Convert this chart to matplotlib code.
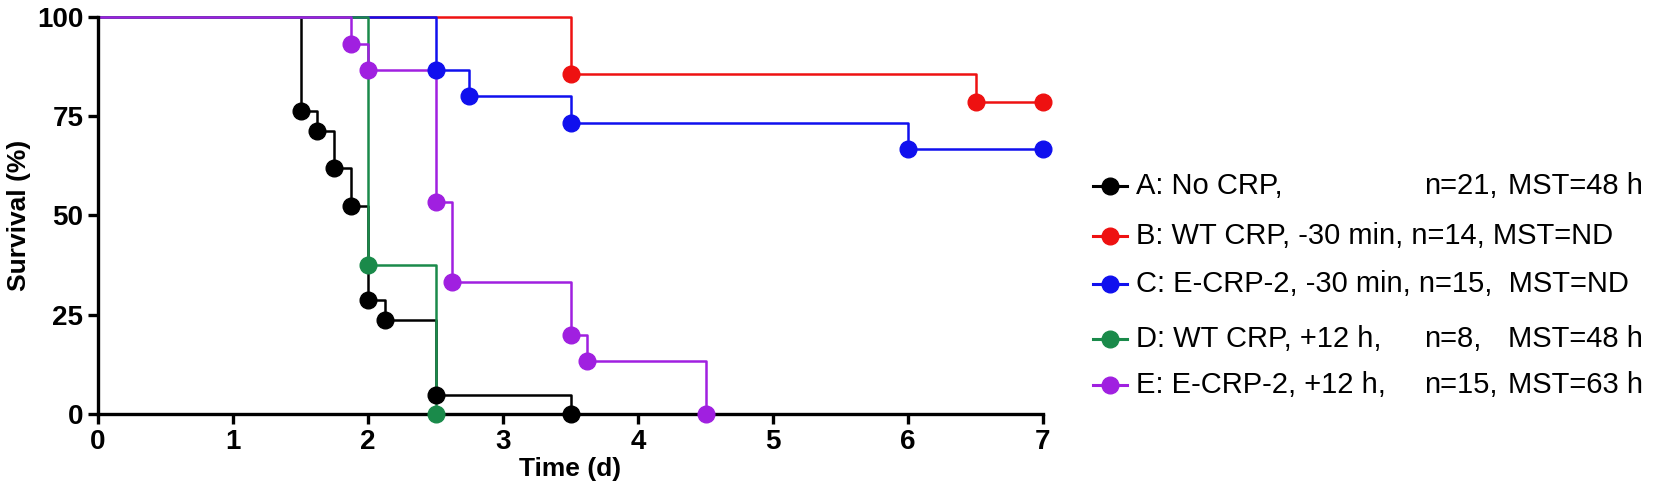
import matplotlib
matplotlib.use("Agg")
import matplotlib.pyplot as plt
from matplotlib.lines import Line2D

plt.rcParams["font.family"] = "Liberation Sans"

colors = ["#000000", "#ee1111", "#1010ee", "#1a8a4a", "#a020e0"]
A_t = [1.5, 1.625, 1.75, 1.875, 2.0, 2.125, 2.5, 3.5]
A_s = [76.2, 71.4, 61.9, 52.4, 28.6, 23.8, 4.8, 0]
B_t = [3.5, 6.5, 7.0]
B_s = [85.7, 78.6, 78.6]
C_t = [2.5, 2.75, 3.5, 6.0, 7.0]
C_s = [86.7, 80.0, 73.3, 66.7, 66.7]
D_t = [2.0, 2.5]
D_s = [37.5, 0]
E_t = [1.875, 2.0, 2.5, 2.625, 3.5, 3.625, 4.5]
E_s = [93.3, 86.7, 53.3, 33.3, 20.0, 13.3, 0]
series = [(A_t, A_s), (B_t, B_s), (C_t, C_s), (D_t, D_s), (E_t, E_s)]

legend_rows = [
    ["A: No CRP,", "n=21,", "MST=48 h"],
    ["B: WT CRP, -30 min, n=14, MST=ND"],
    ["C: E-CRP-2, -30 min, n=15,  MST=ND"],
    ["D: WT CRP, +12 h,", "n=8,", "MST=48 h"],
    ["E: E-CRP-2, +12 h,", "n=15,", "MST=63 h"],
]

W, H = 1654, 500
fig = plt.figure(figsize=(16.54, 5.0), dpi=100)
ax = fig.add_axes([98 / W, 1 - 414 / H, (1043 - 98) / W, (414 - 17) / H])

for (t, s), c in zip(series, colors):
    xs = [0] + t
    ys = [100] + s
    ax.step(xs, ys, where="post", color=c, lw=1.8, clip_on=False)
    ax.plot(t, s, "o", color=c, ms=12, clip_on=False, zorder=5)

ax.set_xlim(0, 7)
ax.set_ylim(0, 100)
ax.set_xticks(range(8))
ax.set_yticks([0, 25, 50, 75, 100])
for sp in ["top", "right"]:
    ax.spines[sp].set_visible(False)
for sp in ["left", "bottom"]:
    ax.spines[sp].set_linewidth(2.4)
ax.tick_params(width=2.4, length=7, labelsize=20, direction="out")
for lab in ax.get_xticklabels() + ax.get_yticklabels():
    lab.set_fontweight("bold")
ax.set_xlabel("Time (d)", fontsize=19, fontweight="bold", labelpad=2)
ax.set_ylabel("Survival (%)", fontsize=19, fontweight="bold", labelpad=4)

rows_y = [186, 236, 284, 339, 385]
for (row, c, y) in zip(legend_rows, colors, rows_y):
    fy = 1 - y / H
    fig.add_artist(Line2D([1093 / W, 1127 / W], [fy, fy], color=c, lw=2.2))
    fig.add_artist(Line2D([1110 / W], [fy], marker="o", color=c, ms=12))
    xs = [1136, 1424, 1508] if len(row) == 3 else [1136]
    for txt, x in zip(row, xs):
        fig.text(x / W, fy, txt, fontsize=21, va="center", ha="left")

fig.savefig("out.png", dpi=100)
